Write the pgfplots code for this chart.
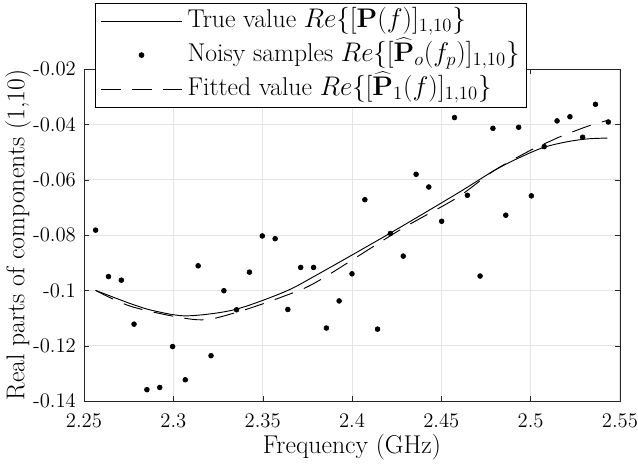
\documentclass[border=0pt]{standalone}
\usepackage{pgfplots}
\pgfplotsset{compat=1.18}
\definecolor{axgray}{RGB}{38,38,38}
\definecolor{gridgray}{RGB}{228,228,228}

\begin{document}
\begin{tikzpicture}
\begin{axis}[
    scale only axis, width=344pt, height=213pt,
    xmin=2.25, xmax=2.55, ymin=-0.14, ymax=-0.02,
    xtick={2.25,2.3,2.35,2.4,2.45,2.5,2.55},
    xticklabels={2.25,2.3,2.35,2.4,2.45,2.5,2.55},
    ytick={-0.14,-0.12,-0.1,-0.08,-0.06,-0.04,-0.02},
    yticklabels={-0.14,-0.12,-0.1,-0.08,-0.06,-0.04,-0.02},
    tick label style={font=\fontsize{13.3}{15}\selectfont},
    xticklabel style={inner xsep=0pt},
    xticklabel shift=4.3pt, yticklabel shift=1.7pt,
    label style={font=\fontsize{16.5}{19}\selectfont},
    tick align=inside, major tick length=3.3pt,
    axis line style={axgray}, tick style={axgray},
    xmajorgrids, ymajorgrids,
    grid style={gridgray, line width=0.6pt},
    xlabel={Frequency (GHz)},
    ylabel={Real parts of components (1,10)},
    xlabel style={yshift=2.6pt},
    ylabel style={yshift=-5.5pt},
    legend cell align=left,
    legend style={at={(0.0214,1.20)}, anchor=north west, draw=black, fill=white,
        line width=0.5pt, row sep=0.8pt, inner xsep=3pt, inner ysep=1pt,
        font=\fontsize{16.5}{19}\selectfont,
        nodes={inner xsep=1.5pt, inner ysep=1.5pt, text height=13.2pt, text depth=4.8pt}},
    legend image code/.code={%
        \draw[mark repeat=2,mark phase=2,#1] plot coordinates {(2.5pt,0pt) (28.5pt,0pt) (54.5pt,0pt)};
        \path (56.3pt,0pt);},
]
% true value
\addplot[black, line width=0.6pt, smooth] coordinates {
(2.2565,-0.1000) (2.2774,-0.1051) (2.2900,-0.1075) (2.3076,-0.1092)
(2.3340,-0.1070) (2.3623,-0.1005) (2.3811,-0.0941) (2.4211,-0.0794)
(2.4585,-0.0651) (2.4792,-0.0568) (2.4930,-0.0522) (2.5072,-0.0483)
(2.5208,-0.0462) (2.5320,-0.0452) (2.5430,-0.0449)
};
\addlegendentry{True value $Re\{[\mathbf{P}(f)]_{1,10}\}$}
% noisy samples
\addplot[only marks, mark=*, mark size=1.55pt, black] coordinates {
(2.2565,-0.0782) (2.2637,-0.0950) (2.2709,-0.0963) (2.2780,-0.1122)
(2.2852,-0.1359) (2.2924,-0.1351) (2.2996,-0.1203) (2.3067,-0.1323)
(2.3139,-0.0911) (2.3211,-0.1236) (2.3283,-0.1001) (2.3354,-0.1070)
(2.3426,-0.0934) (2.3498,-0.0803) (2.3570,-0.0813) (2.3641,-0.1069)
(2.3713,-0.0917) (2.3785,-0.0917) (2.3857,-0.1136) (2.3928,-0.1038)
(2.4000,-0.0940) (2.4072,-0.0672) (2.4143,-0.1140) (2.4215,-0.0794)
(2.4287,-0.0876) (2.4359,-0.0580) (2.4430,-0.0626) (2.4502,-0.0750)
(2.4574,-0.0375) (2.4646,-0.0656) (2.4717,-0.0948) (2.4789,-0.0414)
(2.4861,-0.0728) (2.4933,-0.0410) (2.5004,-0.0658) (2.5076,-0.0480)
(2.5148,-0.0387) (2.5220,-0.0372) (2.5291,-0.0446) (2.5363,-0.0327)
(2.5435,-0.0391)
};
\addlegendentry{Noisy samples $Re\{[\widehat{\mathbf{P}}_o(f_p)]_{1,10}\}$}
% fitted value
\addplot[black, line width=0.6pt, smooth, dash pattern=on 12.5pt off 7.5pt] coordinates {
(2.2565,-0.1000) (2.2774,-0.1060) (2.3132,-0.1106) (2.3340,-0.1082)
(2.3623,-0.1020) (2.3811,-0.0966) (2.4264,-0.0783) (2.4585,-0.0666)
(2.4792,-0.0568) (2.5000,-0.0493) (2.5104,-0.0462) (2.5166,-0.0444)
(2.5270,-0.0418) (2.5335,-0.0403) (2.5430,-0.0385)
};
\addlegendentry{Fitted value $Re\{[\widehat{\mathbf{P}}_1(f)]_{1,10}\}$}
\end{axis}
\path ([yshift=1.8pt]current bounding box.north);
\end{tikzpicture}
\end{document}
